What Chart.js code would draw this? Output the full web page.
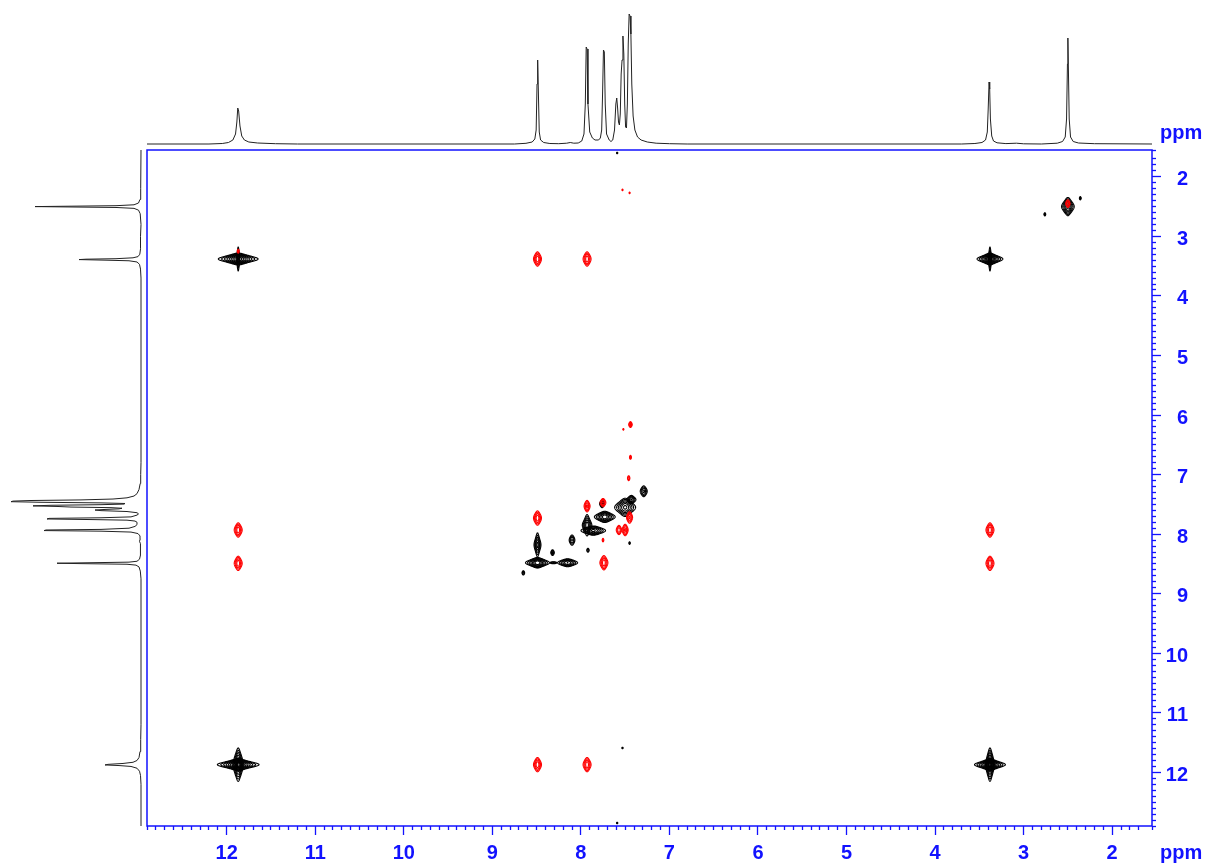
<!DOCTYPE html>
<html lang="en">
<head>
<meta charset="UTF-8">
<title>2D NOESY spectrum</title>
<style>
    body { margin: 0; background: #fff; }
    .wrap { position: relative; width: 1212px; height: 865px; }
    .wrap canvas { position: absolute; left: 0; top: 0; }
</style>
</head>
<body>
<div class="wrap">
    <canvas id="top" width="1212" height="865"></canvas>
    <canvas id="side" width="1212" height="865"></canvas>
    <canvas id="main" width="1212" height="865"></canvas>
</div>

<script src="https://cdn.jsdelivr.net/npm/chart.js"></script>
<script>
    // axis range (ppm), same on both dimensions
    var ppmMin = 1.55, ppmMax = 12.9;

    // 1D projection trace: ppm and height
    var traceppm = [12.90, 12.20, 12.05, 11.98, 11.93, 11.90, 11.885, 11.875, 11.865, 11.85, 11.83, 11.80, 11.75, 11.65, 11.45, 11.20,
        8.75, 8.62, 8.55, 8.52, 8.505, 8.495, 8.488, 8.482, 8.47, 8.455, 8.42, 8.35, 8.25,
        8.16, 8.12, 8.08, 8.03, 7.99, 7.965, 7.95, 7.94, 7.93, 7.92, 7.90, 7.87, 7.84, 7.80, 7.78, 7.765, 7.755, 7.745, 7.735, 7.725, 7.71,
        7.68, 7.66, 7.64, 7.62, 7.605, 7.595, 7.585, 7.575, 7.565, 7.555, 7.545, 7.535, 7.525, 7.515, 7.505, 7.495, 7.485, 7.475, 7.465,
        7.455, 7.445, 7.435, 7.425, 7.41, 7.39, 7.36, 7.32, 7.25, 7.15, 7.00, 6.80,
        3.70, 3.55, 3.47, 3.43, 3.41, 3.40, 3.39, 3.383, 3.375, 3.36, 3.34, 3.30, 3.20, 3.08, 3.00, 2.80,
        2.62, 2.56, 2.53, 2.515, 2.505, 2.50, 2.495, 2.485, 2.47, 2.44, 2.38, 2.20, 1.55];
    var traceint = [0, 0, 0.5, 1.5, 4, 10, 22, 36, 33, 18, 8, 4, 2, 1, 0.3, 0,
        0, 0.7, 2, 5, 14, 60, 84, 60, 12, 4, 1.5, 0.5, 0.3,
        0.8, 1.5, 0.8, 1, 3, 10, 40, 97, 95, 40, 12, 6, 4, 4, 6, 14, 50, 94, 92, 40, 10,
        4, 2.5, 4, 14, 40, 46, 36, 22, 19, 30, 70, 84, 108, 90, 40, 17, 16, 40, 100,
        130, 128, 110, 60, 28, 14, 7, 4, 2, 0.8, 0.3, 0,
        0, 0.5, 1.5, 4, 12, 35, 62, 55, 25, 8, 3, 1.2, 0.4, 0.8, 0.2, 0,
        0.8, 2.5, 7, 25, 80, 106, 80, 25, 7, 2.5, 1, 0.3, 0];

    // 2D cross peaks: position (F2, F1), line widths (ppm), height (negative = red), F1 lineshape
    var peakF2 = [11.87, 11.87, 3.38, 3.38, 11.87, 11.87, 3.38, 3.38, 2.50, 2.76, 2.36,
        8.49, 8.15, 8.31, 8.49, 7.86, 7.93, 7.73, 7.76, 7.50, 7.43, 7.29, 8.65, 8.32, 8.10, 7.45, 7.92, 7.59, 7.59, 7.53,
        8.49, 7.93, 11.87, 11.87, 3.38, 3.38, 8.49, 7.93, 8.49, 7.74, 7.93, 7.75, 7.45, 7.50, 7.57, 7.75,
        7.44, 7.44, 7.52, 7.46, 7.53, 7.45, 11.87, 2.50];
    var peakF1 = [3.38, 3.38, 3.38, 3.38, 11.87, 11.87, 11.87, 11.87, 2.50, 2.63, 2.36,
        8.48, 8.48, 8.48, 8.18, 7.94, 7.85, 7.71, 7.49, 7.55, 7.42, 7.28, 8.65, 8.31, 8.10, 8.15, 8.27, 1.60, 12.85, 11.59,
        3.38, 3.38, 7.93, 8.49, 7.93, 8.49, 11.87, 11.87, 7.73, 8.48, 7.53, 7.47, 7.72, 7.93, 7.93, 8.10,
        6.71, 6.16, 6.24, 7.06, 2.22, 2.27, 3.25, 2.45];
    var peakLwF2 = [0.060, 0.013, 0.039, 0.013, 0.054, 0.026, 0.040, 0.022, 0.032, 0.010, 0.010,
        0.044, 0.054, 0.040, 0.021, 0.062, 0.027, 0.048, 0.020, 0.053, 0.030, 0.028, 0.015, 0.018, 0.024, 0.010, 0.015, 0.010, 0.010, 0.010,
        0.028, 0.028, 0.028, 0.028, 0.028, 0.028, 0.028, 0.028, 0.028, 0.028, 0.024, 0.024, 0.024, 0.024, 0.024, 0.012,
        0.012, 0.018, 0.008, 0.015, 0.008, 0.008, 0.012, 0.020];
    var peakLwF1 = [0.051, 0.150, 0.051, 0.150, 0.048, 0.165, 0.048, 0.165, 0.090, 0.030, 0.030,
        0.050, 0.046, 0.020, 0.108, 0.052, 0.090, 0.060, 0.054, 0.090, 0.050, 0.075, 0.040, 0.050, 0.075, 0.030, 0.040, 0.020, 0.020, 0.020,
        0.090, 0.090, 0.090, 0.090, 0.090, 0.090, 0.090, 0.090, 0.090, 0.090, 0.080, 0.060, 0.080, 0.080, 0.070, 0.040,
        0.040, 0.050, 0.020, 0.050, 0.020, 0.020, 0.040, 0.060];
    var peakAmp = [15, 2.8, 15, 2.8, 20, 6, 20, 6, 6, 2, 2,
        10.5, 5.4, 2, 4.5, 6, 5, 7, 3, 6, 4, 3, 2, 2.2, 2.8, 1.6, 1.8, 1.5, 1.5, 1.5,
        -3.6, -3.6, -3.6, -3.6, -3.6, -3.6, -3.6, -3.6, -3.6, -3.6, -3, -2.8, -3, -3, -2.6, -1.6,
        -1.8, -2.2, -1.5, -1.8, -1.5, -1.5, -1.8, -2.5];
    var peakShape = [4, 1, 4, 1, 4, 2, 4, 2, 2, 2, 2,
        4, 4, 4, 1, 4, 1, 4, 2, 2, 2, 2, 2, 2, 2, 2, 2, 2, 2, 2,
        2, 2, 2, 2, 2, 2, 2, 2, 2, 2, 2, 2, 2, 2, 2, 2,
        2, 2, 2, 2, 2, 2, 2, 2];

    var blue = '#1212ff';
    var levelStep = 1.4;
    var tickFont = { family: 'Liberation Sans, Arial, Helvetica, sans-serif', size: 20, weight: 'bold' };

    var traceTop = traceppm.map(function (p, i) { return { x: p, y: traceint[i] }; });
    var traceSide = traceppm.map(function (p, i) { return { x: traceint[i], y: p }; });
    var peakPoints = peakF2.map(function (p, i) { return { x: p, y: peakF1[i] }; });

    function isMajor(v) { return Math.abs(v - Math.round(v)) < 1e-6; }

    // contour lines of each peak, drawn through the chart scales
    var contourPlugin = {
        id: 'contours',
        afterDatasetsDraw: function (chart) {
            var ctx = chart.ctx, xs = chart.scales.x, ys = chart.scales.y, a = chart.chartArea;
            var N = 90;
            ctx.save();
            ctx.beginPath();
            ctx.rect(a.left, a.top, a.right - a.left, a.bottom - a.top);
            ctx.clip();
            ctx.lineWidth = 1.1;
            for (var i = 0; i < peakF2.length; i++) {
                var amp = Math.abs(peakAmp[i]);
                var m = peakShape[i];
                ctx.strokeStyle = peakAmp[i] > 0 ? '#000000' : '#ff0000';
                for (var lev = 1; lev < amp; lev *= levelStep) {
                    var K = amp / lev;
                    var U = Math.sqrt(K - 1);
                    ctx.beginPath();
                    for (var j = 0; j <= 2 * N; j++) {
                        var t = Math.PI * j / N;
                        var u = U * Math.cos(t);
                        var q = Math.pow(K / (1 + u * u), 1 / m) - 1;
                        var v = Math.sqrt(Math.max(0, m * q));
                        if (Math.sin(t) < 0) v = -v;
                        var px = xs.getPixelForValue(peakF2[i] + u * peakLwF2[i]);
                        var py = ys.getPixelForValue(peakF1[i] + v * peakLwF1[i]);
                        if (j === 0) ctx.moveTo(px, py); else ctx.lineTo(px, py);
                    }
                    ctx.closePath();
                    ctx.stroke();
                }
            }
            ctx.restore();
        }
    };

    // blue frame and the two "ppm" labels
    var framePlugin = {
        id: 'frame',
        afterDraw: function (chart) {
            var ctx = chart.ctx, a = chart.chartArea;
            ctx.save();
            ctx.strokeStyle = blue;
            ctx.lineWidth = 1.5;
            ctx.strokeRect(a.left, a.top, a.right - a.left, a.bottom - a.top);
            ctx.fillStyle = blue;
            ctx.font = 'bold 20px ' + tickFont.family;
            ctx.textBaseline = 'middle';
            ctx.fillText('ppm', 1160, 853);
            ctx.fillText('ppm', 1160, 133);
            ctx.restore();
        }
    };

    function hiddenAxis(min, max, reverse) {
        return { type: 'linear', display: false, min: min, max: max, reverse: reverse };
    }

    // top projection
    new Chart(document.getElementById('top'), {
        type: 'scatter',
        data: { datasets: [{ data: traceTop, showLine: true, borderColor: '#222', borderWidth: 1, pointRadius: 0, clip: false }] },
        options: {
            responsive: false, animation: false,
            layout: { padding: { left: 147, right: 60, top: 0, bottom: 721 } },
            plugins: { legend: { display: false }, tooltip: { enabled: false } },
            scales: { x: hiddenAxis(ppmMin, ppmMax, true), y: hiddenAxis(0, 144, false) }
        }
    });

    // left projection
    new Chart(document.getElementById('side'), {
        type: 'scatter',
        data: { datasets: [{ data: traceSide, showLine: true, borderColor: '#222', borderWidth: 1, pointRadius: 0, clip: false }] },
        options: {
            responsive: false, animation: false,
            layout: { padding: { left: 0, right: 1071, top: 150, bottom: 39 } },
            plugins: { legend: { display: false }, tooltip: { enabled: false } },
            scales: { x: hiddenAxis(0, 141, true), y: hiddenAxis(ppmMin, ppmMax, true) }
        }
    });

    // 2D map
    function ppmAxis(position, size, pad, shift) {
        return {
            type: 'linear', position: position, min: ppmMin, max: ppmMax, reverse: true,
            border: { display: false },
            grid: {
                drawOnChartArea: false, tickLength: 9, tickColor: blue, tickWidth: 1.3,
                tickBorderDash: function (c) { return isMajor(c.tick.value) ? [] : [4, 30]; }
            },
            ticks: {
                stepSize: 0.1, autoSkip: false, maxRotation: 0, color: blue, font: tickFont,
                padding: pad, crossAlign: 'far', labelOffset: shift,
                callback: function (v) { return isMajor(v) ? String(Math.round(v)) : ''; }
            },
            afterFit: function (s) { if (position === 'bottom') s.height = size; else s.width = size; }
        };
    }

    new Chart(document.getElementById('main'), {
        type: 'scatter',
        data: { datasets: [{ data: peakPoints, pointRadius: 0 }] },
        options: {
            responsive: false, animation: false,
            layout: { padding: { left: 147, top: 150, right: 24, bottom: 0 } },
            plugins: { legend: { display: false }, tooltip: { enabled: false } },
            scales: { x: ppmAxis('bottom', 39, 18, 0), y: ppmAxis('right', 36, 7, 3) }
        },
        plugins: [contourPlugin, framePlugin]
    });
</script>
</body>
</html>
